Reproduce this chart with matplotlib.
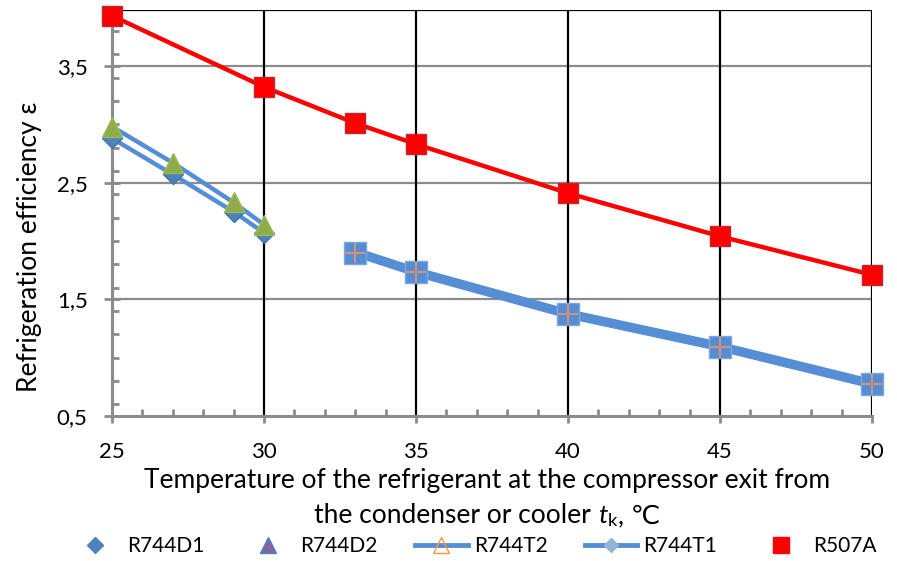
import numpy as np
import matplotlib
matplotlib.use("Agg")
import matplotlib.pyplot as plt
from matplotlib.lines import Line2D
from matplotlib.ticker import MultipleLocator, FuncFormatter
from matplotlib.offsetbox import TextArea, HPacker, AnnotationBbox

plt.rcParams['font.family'] = ['Lato', 'DejaVu Sans']
plt.rcParams['mathtext.fontset'] = 'custom'
plt.rcParams['mathtext.rm'] = 'Lato'
plt.rcParams['mathtext.it'] = 'Lato:italic'

# transcritical / subcritical CO2 cycle points
t_low = [25, 27, 29, 30]
d1 = [2.88, 2.57, 2.25, 2.07]
d2 = [2.98, 2.67, 2.33, 2.14]

t_high = [33, 35, 40, 45, 50]
t1 = [1.90, 1.73, 1.37, 1.09, 0.77]
t2 = [1.91, 1.74, 1.38, 1.10, 0.78]

t_r507 = [25, 30, 33, 35, 40, 45, 50]
r507a = [3.93, 3.32, 3.01, 2.83, 2.41, 2.04, 1.71]

yticks = [0.5, 1.5, 2.5, 3.5]

blue = '#558ed5'
fs = 19

fig = plt.figure(figsize=(8.97, 5.61), dpi=100)
ax = fig.add_axes([0.1249, 0.2585, 0.8472, 0.7237])

# grid: grey horizontals, black verticals
for y in yticks[1:]:
    ax.axhline(y, color='#8c8c8c', lw=1.6, zorder=1)
for x in [30, 35, 40, 45, 50]:
    ax.axvline(x, color='black', lw=1.6, zorder=1)
ax.axhline(3.98, color='black', lw=1.6, zorder=1)

# lines through CO2 points
ax.plot(t_low, d1, color=blue, lw=3.2, zorder=3)
ax.plot(t_low, d2, color=blue, lw=3.2, zorder=3)
ax.plot(t_high, t2, color=blue, lw=6, zorder=3)
ax.plot(t_high, t1, color=blue, lw=6, zorder=3)

kw = dict(ls='none', clip_on=False)
ax.plot(t_low, d1, 'D', color='#4f81bd', ms=10, mec='#3f71ad', zorder=4, **kw)
ax.plot(t_low, d2, '^', color='#8fac4a', ms=14, mec='#9bbb59', zorder=4, **kw)
ax.plot(t_high, t1, 's', color=blue, ms=16, mec='#7ea6de', zorder=4, **kw)
ax.plot(t_high, t1, '+', color='#d99078', ms=15, mew=1.5, zorder=5, **kw)

ax.plot(t_r507, r507a, color='#ff0000', lw=3.2, zorder=6, clip_on=False)
ax.plot(t_r507, r507a, 's', color='#ff0000', ms=14.5, mec='#c0282d', zorder=7, **kw)

ax.set_xlim(25, 50)
ax.set_ylim(0.5, 3.98)
ax.set_xticks([25, 30, 35, 40, 45, 50])
ax.set_yticks(yticks)
ax.xaxis.set_minor_locator(MultipleLocator(1))
ax.yaxis.set_minor_locator(MultipleLocator(0.2))
ax.yaxis.set_major_formatter(FuncFormatter(lambda v, p: f'{v:.1f}'.replace('.', ',')))

for s in ['top', 'right']:
    ax.spines[s].set_visible(False)
for s in ['left', 'bottom']:
    ax.spines[s].set_color('#8c8c8c')
    ax.spines[s].set_linewidth(2.2)
ax.tick_params(which='major', direction='inout', length=11, width=2, color='#8c8c8c',
               labelsize=16, pad=12)
ax.tick_params(which='minor', direction='in', length=5, width=2, color='#8c8c8c')
ax.tick_params(axis='x', which='major', direction='out', length=5, pad=14)

ax.set_ylabel('Refrigeration efficiency ε', fontsize=fs)
ax.yaxis.set_label_coords(-0.092, 0.416)

# two-line x-axis title; second line built from pieces for italic t with subscript
fig.text(0.5435, 1 - 488 / 561, 'Temperature of the refrigerant at the compressor exit from',
         fontsize=fs, ha='center', va='baseline')
tp = dict(fontsize=fs, family=['Lato', 'DejaVu Sans'])
line2 = HPacker(children=[TextArea('the condenser or cooler ', textprops=tp),
                          TextArea(r'$\mathit{t}_\mathrm{k}$', textprops=dict(fontsize=fs)),
                          TextArea(', ℃', textprops=tp)],
                align='baseline', pad=0, sep=0)
fig.add_artist(AnnotationBbox(line2, (0.5435, 1 - 516 / 561), xycoords='figure fraction',
                              frameon=False, box_alignment=(0.5, 0.5), pad=0))

handles = [
    Line2D([], [], marker='D', color='#4f81bd', ls='none', ms=8),
    Line2D([], [], marker='^', color='#8064a2', mec='#4f81bd', ls='none', ms=11),
    Line2D([], [], marker='^', color=blue, lw=3.5, mfc='none', mec='#f79646', ms=11),
    Line2D([], [], marker='D', color=blue, lw=3.5, mfc='#95b3d7', mec='#95b3d7', ms=7),
    Line2D([], [], marker='s', color='#ff0000', ls='none', ms=11),
]
labels = ['R744D1', 'R744D2', 'R744T2', 'R744T1', 'R507A']
fig.legend(handles, labels, loc='center', bbox_to_anchor=(0.527, 0.027), ncol=5,
           frameon=False, fontsize=15, handlelength=2.5, columnspacing=1.8,
           handletextpad=0.3)

fig.savefig('out.png', dpi=100)
